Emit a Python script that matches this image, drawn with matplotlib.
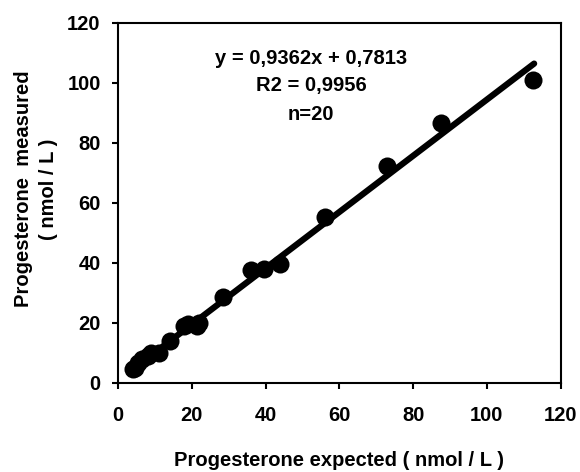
import numpy as np
import matplotlib
matplotlib.use("Agg")
import matplotlib.pyplot as plt

# values
expected = [4, 4.5, 5.5, 6.5, 8, 9, 11, 14, 18, 19, 21.5, 22,
            28.5, 36, 39.5, 44, 56, 73, 87.5, 112.5]
measured = [4.8, 5, 6.5, 8, 9, 10, 10, 14, 19, 19.5, 19, 20,
            28.7, 37.5, 38, 39.5, 55.3, 72.3, 86.5, 101]
slope = 0.9362
intercept = 0.7813
eq_lines = ["y = 0,9362x + 0,7813", "R2 = 0,9956", "n=20"]
ticks = [0, 20, 40, 60, 80, 100, 120]

plt.rcParams['font.family'] = ['Liberation Sans', 'DejaVu Sans']
plt.rcParams['font.weight'] = 'bold'

fig = plt.figure(figsize=(5.8, 4.72), dpi=100)
ax = fig.add_axes([118 / 580, 1 - 383 / 472, (560.7 - 118) / 580, (383 - 22.7) / 472])

ax.scatter(expected, measured, s=13 ** 2, color='black', zorder=3, linewidths=0)
xs = np.array([min(expected) - 0.5, max(expected) + 0.3])
ax.plot(xs, slope * xs + intercept, color='black', lw=4.5, solid_capstyle='round', zorder=2)

ax.set_xlim(0, 120)
ax.set_ylim(0, 120)
ax.set_xticks(ticks)
ax.set_yticks(ticks)
for s in ax.spines.values():
    s.set_linewidth(1.5)
ax.tick_params(axis='both', direction='out', length=4.5, width=1.5, labelsize=14.5)
ax.tick_params(axis='x', pad=12)
ax.tick_params(axis='y', pad=8)
for lab in ax.get_xticklabels() + ax.get_yticklabels():
    lab.set_fontweight('bold')

for i, t in enumerate(eq_lines):
    fig.text(311 / 580, 1 - (58 + 28 * i) / 472, t, ha='center', va='center',
             fontsize=14.5, fontweight='bold')

fig.text(339 / 580, 1 - 460 / 472, "Progesterone expected ( nmol / L )",
         ha='center', va='center', fontsize=14.5, fontweight='bold')
fig.text(36 / 580, 1 - 189 / 472, "Progesterone  measured\n( nmol / L )",
         ha='center', va='center', rotation=90, multialignment='center',
         linespacing=1.45, fontsize=14.5, fontweight='bold')

fig.savefig("out.png", dpi=100)
